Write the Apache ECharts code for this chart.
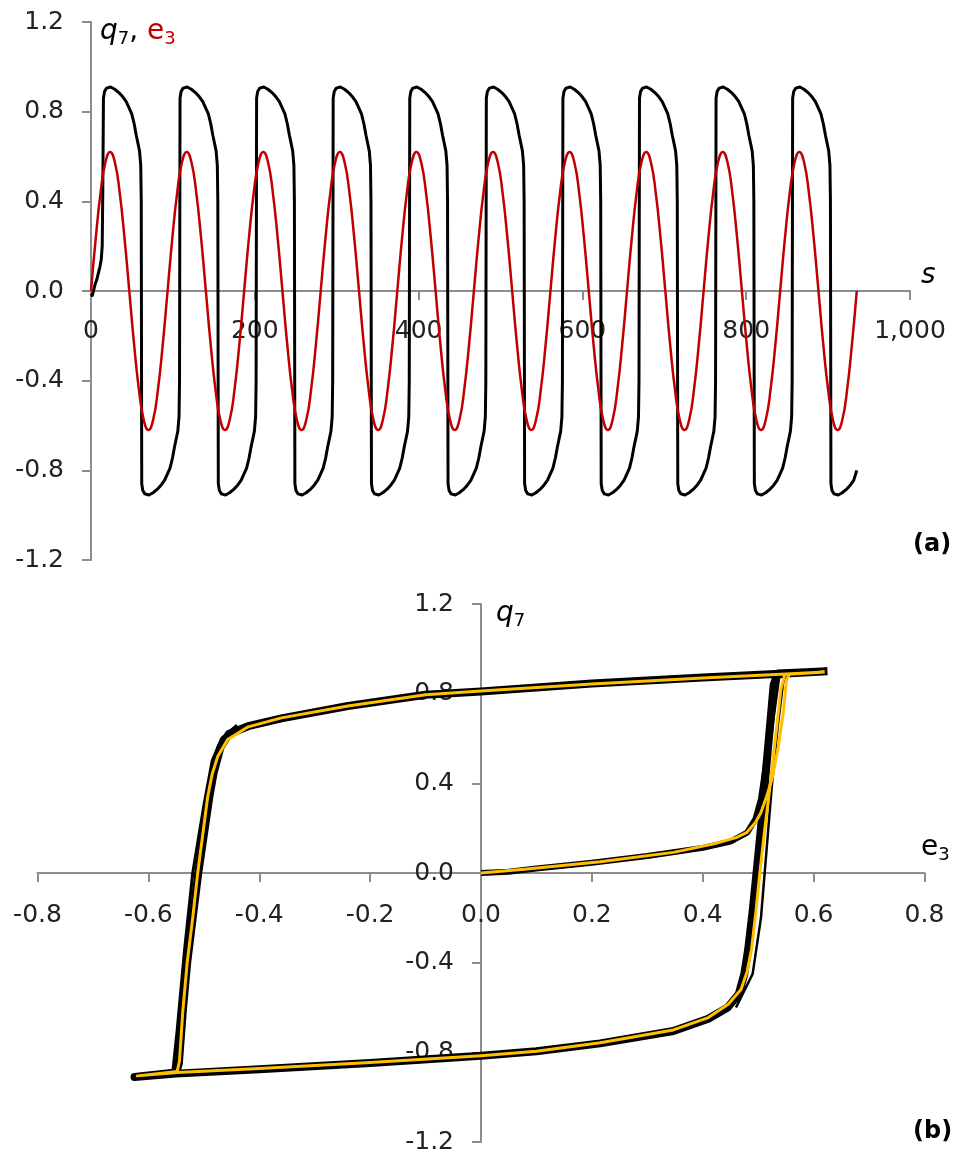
<!DOCTYPE html>
<html>
<head>
<meta charset="utf-8">
<title>q7 response to e3 drive</title>
<script src="https://cdn.jsdelivr.net/npm/echarts@6/dist/echarts.min.js"></script>
<style>
  html, body { margin: 0; padding: 0; background: #ffffff; }
  #chart { width: 954px; height: 1153px; }
</style>
</head>
<body>
<div id="chart"></div>
<script>
// ---------- panel (a): time traces ----------
// start of every drive period (upward zero crossing of e3)
const cycleStarts = [0, 93.5, 187, 280.5, 374, 467.5, 561, 654.5, 748, 841.5];
const sEnd = 935;

// e3 over one drive period (offset from period start, value)
const e3Offsets = [0, 5.84, 11.69, 17.53, 23.38, 29.22, 35.06, 40.91, 46.75, 52.59, 58.44, 64.28, 70.13, 75.97, 81.81, 87.66];
const e3Values  = [0, 0.237, 0.438, 0.573, 0.62, 0.573, 0.438, 0.237, 0, -0.237, -0.438, -0.573, -0.62, -0.573, -0.438, -0.237];

// q7 over one drive period (offset from period start, value)
const q7Offsets = [0, 3, 6, 8.5, 10.5, 12.5, 14, 14.6, 15.2, 16.5, 19, 24, 29, 34, 39, 43, 46.75, 49.75, 52.75,
                   55.25, 57.25, 59.25, 60.75, 61.35, 61.95, 63.25, 65.75, 70.75, 75.75, 80.75, 85.75, 89.75];
const q7Values  = [-0.815, -0.79, -0.745, -0.695, -0.66, -0.625, -0.56, -0.40, 0.86, 0.89, 0.905, 0.91, 0.90, 0.885,
                   0.865, 0.845, 0.815, 0.79, 0.745, 0.695, 0.66, 0.625, 0.56, 0.40, -0.86, -0.89, -0.905, -0.91,
                   -0.90, -0.885, -0.865, -0.845];
// first period starts from the unmagnetised state
const q7StartS = [0, 1.5, 3, 5, 7, 9, 11, 12.5, 13.7, 14.4];
const q7StartQ = [-0.01, -0.02, 0.0, 0.03, 0.05, 0.08, 0.11, 0.14, 0.2, 0.45];
const q7EndQ = -0.80;

// axis ranges / tick labels
const sTicks = [0, 200, 400, 600, 800, 1000];
const qTicks = [-1.2, -0.8, -0.4, 0.0, 0.4, 0.8, 1.2];
const eTicks = [-0.8, -0.6, -0.4, -0.2, 0.0, 0.2, 0.4, 0.6, 0.8];

// ---------- panel (b): q7 against e3 ----------
// measured loop (all periods overlaid)
const measInitial = [[0, 0.0], [0.05, 0.006], [0.1, 0.02], [0.2, 0.046], [0.3, 0.076], [0.4, 0.112], [0.45, 0.14],
                     [0.48, 0.18], [0.495, 0.24], [0.505, 0.33], [0.515, 0.5], [0.525, 0.7], [0.535, 0.88], [0.56, 0.89]];
const measLoop = [[0.625, 0.90], [0.55, 0.89], [0.4, 0.872], [0.2, 0.845], [0, 0.81], [-0.1, 0.795], [-0.24, 0.745],
                  [-0.36, 0.69], [-0.42, 0.655], [-0.455, 0.62], [-0.47, 0.56], [-0.482, 0.45], [-0.49, 0.34],
                  [-0.5, 0.17], [-0.51, 0.0], [-0.52, -0.2], [-0.53, -0.4], [-0.538, -0.62], [-0.545, -0.85],
                  [-0.55, -0.89], [-0.625, -0.91],
                  [-0.55, -0.895], [-0.4, -0.875], [-0.2, -0.848], [0, -0.815], [0.1, -0.795], [0.215, -0.76],
                  [0.347, -0.705], [0.41, -0.65], [0.445, -0.6], [0.465, -0.54], [0.475, -0.45], [0.482, -0.34],
                  [0.49, -0.17], [0.497, 0.0], [0.505, 0.2], [0.512, 0.40], [0.52, 0.62], [0.528, 0.84],
                  [0.535, 0.89], [0.625, 0.90]];
// spread of the switching branches between periods
const measRightAlt = [[0.46, -0.6], [0.49, -0.45], [0.505, -0.2], [0.515, 0.1], [0.525, 0.4], [0.535, 0.65],
                      [0.545, 0.85], [0.555, 0.89]];
const measLeftAlt = [[-0.44, 0.66], [-0.468, 0.6], [-0.485, 0.5], [-0.5, 0.3], [-0.52, 0.0], [-0.535, -0.35],
                     [-0.548, -0.7], [-0.556, -0.89]];
// model curve
const fitInitial = [[0, 0.0], [0.083, 0.018], [0.215, 0.05], [0.347, 0.092], [0.42, 0.13], [0.46, 0.158],
                    [0.479, 0.18], [0.495, 0.225], [0.505, 0.27], [0.515, 0.34], [0.525, 0.42], [0.536, 0.56],
                    [0.545, 0.71], [0.551, 0.86], [0.556, 0.886]];
const fitLoop = [[0.62, 0.897], [0.55, 0.888], [0.4, 0.870], [0.2, 0.843], [0, 0.812], [-0.1, 0.795], [-0.24, 0.745],
                 [-0.36, 0.692], [-0.42, 0.652], [-0.457, 0.595], [-0.475, 0.52], [-0.485, 0.44], [-0.493, 0.34],
                 [-0.502, 0.17], [-0.511, 0.0], [-0.52, -0.2], [-0.53, -0.40], [-0.538, -0.62], [-0.544, -0.84],
                 [-0.548, -0.885], [-0.62, -0.905],
                 [-0.548, -0.89], [-0.4, -0.872], [-0.2, -0.845], [0, -0.815], [0.1, -0.795], [0.215, -0.757],
                 [0.347, -0.70], [0.41, -0.645], [0.446, -0.585], [0.469, -0.52], [0.48, -0.44], [0.488, -0.34],
                 [0.496, -0.17], [0.503, 0.0], [0.512, 0.2], [0.522, 0.40], [0.532, 0.62], [0.541, 0.82],
                 [0.548, 0.885], [0.62, 0.897]];

// ---------- build the time traces ----------
const e3Trace = [];
cycleStarts.forEach(c => e3Offsets.forEach((o, i) => e3Trace.push([c + o, e3Values[i]])));
e3Trace.push([sEnd, 0]);

const q7Trace = [];
q7StartS.forEach((s, i) => q7Trace.push([s, q7StartQ[i]]));
cycleStarts.forEach((c, k) => q7Offsets.forEach((o, i) => {
  if (k === 0 && o < 15) return;
  q7Trace.push([c + o, q7Values[i]]);
}));
q7Trace.push([sEnd, q7EndQ]);

// ---------- layout & styling ----------
const FONT = 'DejaVu Sans';
const AXIS_GREY = '#8c8c8c';
const TEXT = '#222222';

const gridA = { left: 91, top: 22, width: 819, height: 538 };
const gridB = { left: 37.5, top: 604, width: 887, height: 538 };

const qMin = qTicks[0], qMax = qTicks[qTicks.length - 1];
const eMin = eTicks[0], eMax = eTicks[eTicks.length - 1];
const sMin = sTicks[0], sMax = sTicks[sTicks.length - 1];

// distance from the grid edge to the zero line of the crossing axis
const zeroFromBottom = (g) => g.height * (0 - qMin) / (qMax - qMin);
const zeroFromLeft = (g) => g.width * (0 - eMin) / (eMax - eMin);

function fmt1(v) {
  if (Math.abs(v) < 1e-9) return '0.0';
  return v.toFixed(1);
}
function fmtThousands(v) {
  return String(Math.round(v)).replace(/\B(?=(\d{3})+(?!\d))/g, ',');
}

// axis drawn through the zero of the other axis (line + ticks only)
function lineAxis(extra) {
  return Object.assign({
    type: 'value', z: 0,
    axisLine: { show: true, onZero: true, lineStyle: { color: AXIS_GREY, width: 2 } },
    axisTick: { show: true, length: 9, lineStyle: { color: AXIS_GREY, width: 2 } },
    splitLine: { show: false },
    axisLabel: { show: false }
  }, extra);
}
// companion axis that only carries the tick labels next to the zero line
function labelAxis(extra, margin, formatter) {
  return Object.assign({
    type: 'value', z: 0,
    axisLine: { show: false, onZero: false },
    axisTick: { show: false },
    splitLine: { show: false },
    axisLabel: { show: true, fontFamily: FONT, fontSize: 25, color: TEXT, margin: margin, formatter: formatter }
  }, extra);
}

function curve(name, xi, yi, data, color, width, extra) {
  return Object.assign({
    name: name, type: 'line', xAxisIndex: xi, yAxisIndex: yi, data: data, z: 10,
    showSymbol: false, symbol: 'none', silent: true,
    lineStyle: { color: color, width: width, join: 'round' }
  }, extra || {});
}

const chart = echarts.init(document.getElementById('chart'), null, { renderer: 'canvas' });

chart.setOption({
  animation: false,
  backgroundColor: '#ffffff',
  grid: [
    Object.assign({ outerBoundsMode: 'none', containLabel: false }, gridA),
    Object.assign({ outerBoundsMode: 'none', containLabel: false }, gridB)
  ],
  xAxis: [
    lineAxis({ gridIndex: 0, min: sMin, max: sMax, interval: sTicks[1] - sTicks[0] }),
    labelAxis({ gridIndex: 0, min: sMin, max: sMax, interval: sTicks[1] - sTicks[0],
                position: 'bottom', offset: -zeroFromBottom(gridA) }, 28, fmtThousands),
    lineAxis({ gridIndex: 1, min: eMin, max: eMax, interval: 0.2 }),
    labelAxis({ gridIndex: 1, min: eMin, max: eMax, interval: 0.2,
                position: 'bottom', offset: -zeroFromBottom(gridB) }, 30, fmt1)
  ],
  yAxis: [
    lineAxis({ gridIndex: 0, min: qMin, max: qMax, interval: 0.4 }),
    labelAxis({ gridIndex: 0, min: qMin, max: qMax, interval: 0.4, position: 'left', offset: 0 }, 27, fmt1),
    lineAxis({ gridIndex: 1, min: qMin, max: qMax, interval: 0.4 }),
    labelAxis({ gridIndex: 1, min: qMin, max: qMax, interval: 0.4,
                position: 'left', offset: -zeroFromLeft(gridB) }, 27, fmt1)
  ],
  series: [
    curve('q7', 0, 0, q7Trace, '#000000', 3),
    curve('e3', 0, 0, e3Trace, '#c00000', 2.5, { smooth: true }),
    curve('measured initial', 2, 2, measInitial, '#000000', 6),
    curve('measured loop', 2, 2, measLoop, '#000000', 8),
    curve('measured right', 2, 2, measRightAlt, '#000000', 2.5),
    curve('measured left', 2, 2, measLeftAlt, '#000000', 3),
    curve('model initial', 2, 2, fitInitial, '#ffc000', 3),
    curve('model loop', 2, 2, fitLoop, '#ffc000', 3)
  ],
  graphic: [
    {
      type: 'text', x: 100, y: 16,
      style: {
        text: '{q|q}{sub|7}{c|, }{e|e}{esub|3}',
        rich: {
          q: { fontFamily: FONT, fontSize: 28, fontStyle: 'italic', fill: '#000', lineHeight: 32 },
          sub: { fontFamily: FONT, fontSize: 18, fill: '#000', verticalAlign: 'bottom', lineHeight: 10 },
          c: { fontFamily: FONT, fontSize: 28, fill: '#000', lineHeight: 32 },
          e: { fontFamily: FONT, fontSize: 28, fill: '#c00000', lineHeight: 32 },
          esub: { fontFamily: FONT, fontSize: 18, fill: '#c00000', verticalAlign: 'bottom', lineHeight: 10 }
        }
      }
    },
    {
      type: 'text', x: 921, y: 262,
      style: { text: 's', fontFamily: FONT, fontSize: 28, fontStyle: 'italic', fill: '#000' }
    },
    {
      type: 'text', x: 913, y: 533,
      style: { text: '(a)', fontFamily: FONT, fontSize: 24, fontWeight: 'bold', fill: '#000' }
    },
    {
      type: 'text', x: 496, y: 598,
      style: {
        text: '{q|q}{sub|7}',
        rich: {
          q: { fontFamily: FONT, fontSize: 28, fontStyle: 'italic', fill: '#000', lineHeight: 32 },
          sub: { fontFamily: FONT, fontSize: 18, fill: '#000', verticalAlign: 'bottom', lineHeight: 10 }
        }
      }
    },
    {
      type: 'text', x: 921, y: 832,
      style: {
        text: '{e|e}{sub|3}',
        rich: {
          e: { fontFamily: FONT, fontSize: 28, fill: '#000', lineHeight: 32 },
          sub: { fontFamily: FONT, fontSize: 18, fill: '#000', verticalAlign: 'bottom', lineHeight: 10 }
        }
      }
    },
    {
      type: 'text', x: 913, y: 1120,
      style: { text: '(b)', fontFamily: FONT, fontSize: 24, fontWeight: 'bold', fill: '#000' }
    }
  ]
});
</script>
</body>
</html>
